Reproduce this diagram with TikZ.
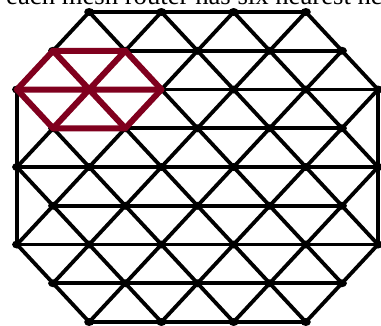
\documentclass[tikz,border=0pt]{standalone}
\usepackage{fontspec}
\setmainfont{Liberation Serif}
\definecolor{meshred}{RGB}{128,0,30}
\tikzset{mesh/.style={line width=3.8pt,black},
	hexa/.style={line width=6pt,meshred,line join=round,line cap=round}}
\begin{document}
\begin{tikzpicture}[x=1pt,y=-1pt]
		\useasboundingbox (0,0) rectangle (381,325);
		\node[anchor=base west,inner sep=0pt,font=\fontsize{26.7}{30}\selectfont] (caption) at (6,4.5) {each mesh router has six nearest ne};
		\foreach \r/\cmin/\cmax in {0/2/8,1/1/9,2/0/10,3/1/9,4/0/10,5/1/9,6/0/10,7/1/9,8/2/8}{
			\pgfmathtruncatemacro\cnext{\cmin+2}
			\foreach \c in {\cmin,\cnext,...,\cmax}
				\coordinate (P\r-\c) at (17+36.1*\c,12+38.75*\r);
			\draw[mesh] (P\r-\cmin) -- (P\r-\cmax);
		}
		\foreach \a/\b in {0-8/2-10,0-6/4-10,0-4/6-10,0-2/7-9,1-1/8-8,2-0/8-6,4-0/8-4,6-0/8-2,
			0-2/2-0,0-4/4-0,0-6/6-0,0-8/7-1,1-9/8-2,2-10/8-4,4-10/8-6,6-10/8-8,2-0/6-0,2-10/6-10}
			\draw[mesh] (P\a) -- (P\b);
		\foreach \r/\cmin/\cmax in {0/2/8,1/1/9,2/0/10,3/1/9,4/0/10,5/1/9,6/0/10,7/1/9,8/2/8}{
			\pgfmathtruncatemacro\cnext{\cmin+2}
			\foreach \c in {\cmin,\cnext,...,\cmax}
				\fill[black] (P\r-\c) ellipse (5 and 4);
		}
		\draw[hexa] (P2-0) -- (P1-1) -- (P1-3) -- (P2-4) -- (P3-3) -- (P3-1) -- cycle;
		\draw[hexa] (P2-0) -- (P2-4) (P1-1) -- (P3-3) (P1-3) -- (P3-1);
\end{tikzpicture}
\end{document}
